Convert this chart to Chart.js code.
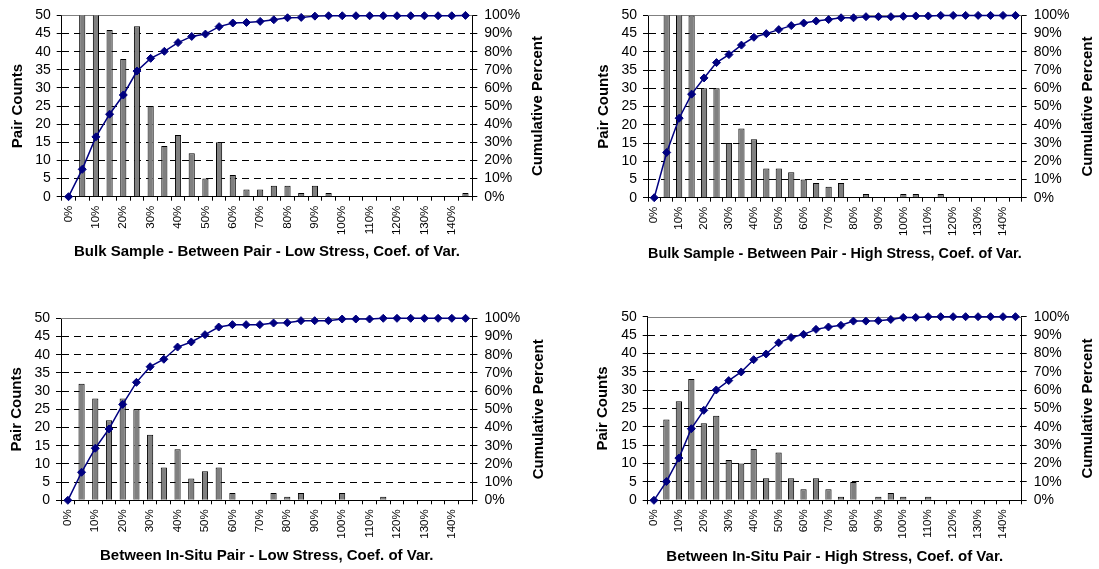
<!DOCTYPE html>
<html>
<head>
<meta charset="utf-8">
<script src="https://cdn.jsdelivr.net/npm/chart.js@4.4.1/dist/chart.umd.min.js"></script>
<style>
  html, body { margin: 0; padding: 0; background: #fff; }
  #wrap { position: relative; width: 1099px; height: 569px; overflow: hidden; background: #fff; }
  canvas { position: absolute; }
</style>
</head>
<body>
<div id="wrap">
  <canvas id="c1" width="549" height="285" style="left:0px;top:0px;width:549px;height:285px"></canvas>
  <canvas id="c2" width="550" height="285" style="left:549px;top:0px;width:550px;height:285px"></canvas>
  <canvas id="c3" width="549" height="284" style="left:0px;top:285px;width:549px;height:284px"></canvas>
  <canvas id="c4" width="550" height="284" style="left:549px;top:285px;width:550px;height:284px"></canvas>
</div>
<script>
// ---------- data ----------
const categories = ['0%','5%','10%','15%','20%','25%','30%','35%','40%','45%',
  '50%','55%','60%','65%','70%','75%','80%','85%','90%','95%',
  '100%','105%','110%','115%','120%','125%','130%','135%','140%','145%'];

const countTicks = [0, 5, 10, 15, 20, 25, 30, 35, 40, 45, 50];
const percentTicks = [0, 10, 20, 30, 40, 50, 60, 70, 80, 90, 100];

const bulkLowCounts = [0, 56, 66, 46, 38, 47, 25, 14, 17, 12, 5, 15, 6, 2, 2, 3, 3, 1, 3, 1,
  0, 0, 0, 0, 0, 0, 0, 0, 0, 1];
const bulkLowCum = [0, 15.1, 33.0, 45.5, 56.1, 69.3, 76.3, 80.2, 85.0, 88.4, 89.7, 93.8, 95.8, 96.1, 96.7, 97.6, 98.7, 98.9, 99.6, 99.8,
  99.8, 99.8, 99.8, 99.8, 99.8, 99.8, 99.8, 99.8, 99.8, 100];

const bulkHighCounts = [0, 87, 66, 50, 30, 30, 15, 19, 16, 8, 8, 7, 5, 4, 3, 4, 0, 1, 0, 0,
  1, 1, 0, 1, 0, 0, 0, 0, 0, 0];
const bulkHighCum = [0, 24.8, 43.6, 56.8, 65.7, 74.1, 78.5, 83.7, 88.0, 90.0, 92.2, 94.4, 95.8, 96.9, 97.7, 98.7, 98.7, 99.3, 99.3, 99.3,
  99.5, 99.7, 99.7, 100, 100, 100, 100, 100, 100, 100];

const insituLowCounts = [0, 32, 28, 22, 28, 25, 18, 9, 14, 6, 8, 9, 2, 0, 0, 2, 1, 2, 0, 0,
  2, 0, 0, 1, 0, 0, 0, 0, 0, 0];
const insituLowCum = [0, 15.4, 28.6, 39.2, 52.7, 64.8, 73.4, 77.5, 84.2, 87.0, 91.0, 95.2, 96.5, 96.5, 96.5, 97.4, 97.6, 98.7, 98.7, 98.7,
  99.6, 99.6, 99.6, 100, 100, 100, 100, 100, 100, 100];

const insituHighCounts = [0, 22, 27, 33, 21, 23, 11, 10, 14, 6, 13, 6, 3, 6, 3, 1, 5, 0, 1, 2,
  1, 0, 1, 0, 0, 0, 0, 0, 0, 0];
const insituHighCum = [0, 10.2, 23.0, 39.0, 49.0, 60.1, 65.2, 69.9, 76.6, 79.7, 85.8, 88.7, 90.4, 93.1, 94.4, 95.3, 97.6, 97.6, 97.8, 98.5,
  99.6, 99.6, 100, 100, 100, 100, 100, 100, 100, 100];

const titles = [
  'Bulk Sample - Between Pair - Low Stress, Coef. of Var.',
  'Bulk Sample - Between Pair - High Stress, Coef. of Var.',
  'Between In-Situ Pair - Low Stress, Coef. of Var.',
  'Between In-Situ Pair - High Stress, Coef. of Var.'
];
const leftTitle = 'Pair Counts';
const rightTitle = 'Cumulative Percent';

// ---------- chart setup ----------
Chart.defaults.font.family = '"Liberation Sans", Arial, sans-serif';
Chart.defaults.color = '#000';

const panelPlugin = {
  id: 'panelDecor',
  beforeDatasetsDraw(chart) {
    const a = chart.chartArea, ctx = chart.ctx;
    ctx.save();
    ctx.strokeStyle = '#808080';
    ctx.lineWidth = 1;
    ctx.beginPath();
    ctx.moveTo(a.left, Math.round(a.top) + 0.5);
    ctx.lineTo(a.right, Math.round(a.top) + 0.5);
    ctx.stroke();
    ctx.restore();
  },
  afterDraw(chart, args, opts) {
    const a = chart.chartArea, ctx = chart.ctx;
    ctx.save();
    ctx.translate(opts.x, (a.top + a.bottom) / 2);
    ctx.rotate(-Math.PI / 2);
    ctx.font = 'bold 15px "Liberation Sans", Arial, sans-serif';
    ctx.fillStyle = '#000';
    ctx.textAlign = 'center';
    ctx.textBaseline = 'middle';
    ctx.fillText(opts.text, 0, 0);
    ctx.restore();
  }
};

function makeChart(id, counts, cum, title, p) {
  const tickFont = { size: 14 };
  return new Chart(document.getElementById(id), {
    type: 'bar',
    data: {
      labels: categories,
      datasets: [
        {
          type: 'line',
          data: cum,
          yAxisID: 'y1',
          borderColor: '#000080',
          backgroundColor: '#000080',
          borderWidth: 1.5,
          pointStyle: 'rectRot',
          pointRadius: 4,
          pointBorderWidth: 1,
          pointBackgroundColor: '#000080',
          pointBorderColor: '#000080',
          tension: 0,
          clip: false,
          order: 0
        },
        {
          type: 'bar',
          data: counts,
          yAxisID: 'y',
          backgroundColor: '#808080',
          borderColor: '#000000',
          borderWidth: 1,
          barPercentage: p.barPct,
          categoryPercentage: 1,
          order: 1
        }
      ]
    },
    options: {
      responsive: false,
      maintainAspectRatio: false,
      animation: false,
      devicePixelRatio: 1,
      layout: { padding: { top: p.padTop, left: 0, right: 0, bottom: 0 } },
      plugins: {
        legend: { display: false },
        tooltip: { enabled: false },
        panelDecor: { text: rightTitle, x: p.rightX }
      },
      scales: {
        x: {
          type: 'category',
          offset: true,
          grid: { offset: true, drawOnChartArea: false, drawTicks: true, tickLength: 4, color: '#000', tickColor: '#000' },
          border: { color: '#000', width: 1 },
          ticks: {
            autoSkip: false, maxRotation: 90, minRotation: 90, padding: 5,
            font: { size: 11.5 }, color: '#000',
            callback: function (v, i) { return i % 2 === 0 ? categories[i] : ''; }
          },
          title: {
            display: true, text: title, color: '#000',
            font: { size: 15, weight: 'bold' },
            padding: { top: 0, bottom: p.xPB }
          },
          afterFit: function (s) { s.height = p.xH; }
        },
        y: {
          position: 'left',
          min: 0, max: 50,
          afterBuildTicks: function (s) { s.ticks = countTicks.map(v => ({ value: v })); },
          ticks: { font: tickFont, color: '#000', padding: 6, autoSkip: false },
          grid: {
            color: function (c) { return (c.tick && (c.tick.value === 50 || c.tick.value === 0)) ? 'rgba(0,0,0,0)' : '#000'; },
            tickColor: '#000', tickLength: 5, tickBorderDash: []
          },
          border: { color: '#000', width: 1, dash: [7, 5] },
          title: {
            display: true, text: leftTitle, color: '#000',
            font: { size: 15, weight: 'bold' },
            padding: { top: p.leftPT, bottom: 0 }
          },
          afterFit: function (s) { s.width = p.yW; }
        },
        y1: {
          position: 'right',
          min: 0, max: 100,
          afterBuildTicks: function (s) { s.ticks = percentTicks.map(v => ({ value: v })); },
          ticks: { font: tickFont, color: '#000', padding: 7, autoSkip: false, callback: function (v) { return v + '%'; } },
          grid: { drawOnChartArea: false, tickColor: '#000', tickLength: 5 },
          border: { color: '#000', width: 1 },
          afterFit: function (s) { s.width = p.y1W; }
        }
      }
    },
    plugins: [panelPlugin]
  });
}

makeChart('c1', bulkLowCounts, bulkLowCum, titles[0],
  { padTop: 15, yW: 61.7, y1W: 76.7, xH: 88.3, leftPT: 9.3, rightX: 538, xPB: 24.3, barPct: 0.45 });
makeChart('c2', bulkHighCounts, bulkHighCum, titles[1],
  { padTop: 15, yW: 99, y1W: 77.3, xH: 87.3, leftPT: 46, rightX: 539, xPB: 22, barPct: 0.5 });
makeChart('c3', insituLowCounts, insituLowCum, titles[2],
  { padTop: 33.3, yW: 61, y1W: 76.6, xH: 68.7, leftPT: 7.7, rightX: 538.7, xPB: 4.3, barPct: 0.45 });
makeChart('c4', insituHighCounts, insituHighCum, titles[3],
  { padTop: 31.7, yW: 98.7, y1W: 77.3, xH: 68.7, leftPT: 45, rightX: 538.8, xPB: 3.3, barPct: 0.5 });
</script>
</body>
</html>
